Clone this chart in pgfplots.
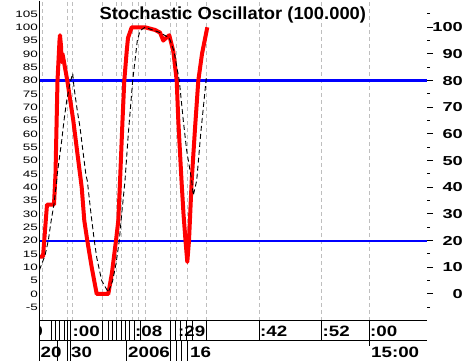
\documentclass[border=0pt]{standalone}
\usepackage{pgfplots}
\pgfplotsset{compat=1.18}
\usepackage{fontspec}
\setmainfont{Liberation Sans}
\newfontfamily\leftf{Liberation Sans}[FakeStretch=1.45]
\newfontfamily\rightf{Liberation Sans}[FakeStretch=1.4]
\newfontfamily\botf{Liberation Sans}[FakeStretch=1.25]
\newfontfamily\titf{Liberation Sans}[FakeStretch=1.05]
\definecolor{gridgray}{RGB}{190,190,190}
\begin{document}
\begin{tikzpicture}
\begin{axis}[
  scale only axis, width=387pt, height=320pt,
  xmin=40, xmax=427, ymin=-10, ymax=110,
  clip=false,
  axis x line*=bottom, axis y line*=left,
  axis line style={draw=none},
  xtick={42,67,72,102,116,121,132,138.5,145,170.5,176.5,187,206,259,321,369},
  xticklabel=\empty,
  x tick style={draw=none},
  xmajorgrids,
  x grid style={draw=gridgray, line width=0.9pt, dash pattern=on 4pt off 3pt},
  ytick={-5,0,...,105},
  y tick style={draw=none},
  yticklabel style={font={\leftf\fontsize{9.3}{10}\selectfont}, anchor=east, inner sep=0pt, xshift=-2pt},
  /pgf/number format/assume math mode=true,
]
\path (axis cs:0,-25) rectangle (axis cs:465,110);
\addplot[draw=blue, line width=2.2pt] coordinates {(40,80) (427,80)};
\addplot[draw=blue, line width=2.2pt] coordinates {(40,20) (427,20)};
\addplot[red, line width=4pt, line join=round] coordinates {
(40,14) (43,14) (47,33.5) (54,33.5) (55.5,45) (57.5,80) (59.5,95) (60,97)
(61,93) (61.7,87) (62.5,90) (63.5,88) (67.3,80) (73.3,65) (77.3,53) (81.7,40)
(84.3,27.5) (87.3,20) (91.7,10) (96.7,0) (108.3,0) (112,8) (116,20) (118.3,27.5)
(120,42) (122.5,65) (124.3,80) (126.7,91) (128,96) (131.7,100) (145,100) (155,99)
(160,98) (163.3,95) (166,96) (169.3,97) (173.3,91) (176.7,80) (178.3,65) (181.5,42.5)
(183.5,30) (185.5,20) (187.3,12) (189,20) (191.7,42.5) (195,62) (198.3,80) (202,90) (207.3,100)
};
\addplot[black, line width=0.9pt, dash pattern=on 5pt off 3pt] coordinates {
(39.5,9) (45,14.4) (48.3,20) (50.7,26.3) (54,33.8) (56.7,42.5) (57.3,45) (61.7,57.5)
(64,65) (66.7,72.5) (70,79) (72.7,82.7) (74,77.5) (77.3,68.7) (80,62.5) (83.3,52.5)
(86,44.4) (87.3,42.5) (91,30) (94.3,20) (96.7,13.7) (101.7,5) (108.3,0.6) (112.7,5)
(116,11.3) (119.3,20) (121.7,30) (125,42.5) (128.3,60) (132.7,80) (137.3,95) (140,98.7)
(145,100) (160,98) (169.3,96) (174,91) (179.3,80) (183.3,65) (186.7,53.7) (191.7,42.5)
(193.3,37) (196.7,42.5) (200.7,60) (206.3,81)
};
% title
\node[font={\titf\bfseries\fontsize{17.5}{18}\selectfont}, anchor=base, inner sep=0pt] at (axis cs:232.8,102.9) {Stochastic Oscillator (100.000)};
% bottom time axis
\pgfplotsinvokeforeach{51.7,55.7,59.3,64,67,70.5,102,108,112,116,121,125,129,134,140,170.5,175.5,180,186.5,192.5,206,259,321,369}{
  \draw[black, line width=1pt] (axis cs:#1,-10) -- (axis cs:#1,-17.5);
}
\pgfplotsinvokeforeach{57,67,70,126,170.5,176.5,181.5,187}{
  \draw[black, line width=1pt] (axis cs:#1,-17.5) -- (axis cs:#1,-25);
}
\draw[black, line width=1pt] (axis cs:369,-17.5) -- (axis cs:369,-19.7);
\node[font={\botf\bfseries\fontsize{15}{16}\selectfont}, anchor=base east, inner sep=0pt] at (axis cs:43,-15.8) {:59};
\fill[white] (axis cs:15,-10.3) rectangle (axis cs:39.4,-17.2);
\begin{scope}[every node/.style={font={\botf\bfseries\fontsize{15}{16}\selectfont}, anchor=base west, inner sep=0pt}]
\node at (axis cs:72.5,-15.8) {:00};
\node at (axis cs:135,-15.8) {:08};
\node at (axis cs:178,-15.8) {:29};
\node at (axis cs:260,-15.8) {:42};
\node at (axis cs:322.5,-15.8) {:52};
\node at (axis cs:370,-15.8) {:00};
\node at (axis cs:40.5,-23.7) {20};
\node at (axis cs:71,-23.7) {30};
\node at (axis cs:128,-23.7) {2006};
\node at (axis cs:190,-23.7) {16};
\node at (axis cs:371,-23.7) {15:00};
\end{scope}
\draw[black, line width=1pt] (axis cs:39.5,-10) -- (axis cs:427,-10);
\draw[black, line width=1pt] (axis cs:39.5,-17.5) -- (axis cs:427,-17.5);
\draw[black, line width=1.2pt] (axis cs:39.5,110) -- (axis cs:39.5,-25);
\end{axis}
\begin{axis}[
  scale only axis, width=387pt, height=320pt,
  xmin=40, xmax=427, ymin=-10, ymax=110,
  hide x axis,
  axis y line*=right,
  y axis line style={draw=none},
  ytick={0,10,...,100},
  minor ytick={-5,5,...,105},
  tick align=outside,
  major tick length=6pt, minor tick length=3pt,
  y tick style={black, line width=1pt},
  yticklabel style={font={\rightf\bfseries\fontsize{13}{14}\selectfont}, anchor=east, inner sep=0pt, xshift=30pt},
  /pgf/number format/assume math mode=true,
]
\addplot[draw=none] coordinates {(40,0)};
\end{axis}
\end{tikzpicture}
\end{document}
